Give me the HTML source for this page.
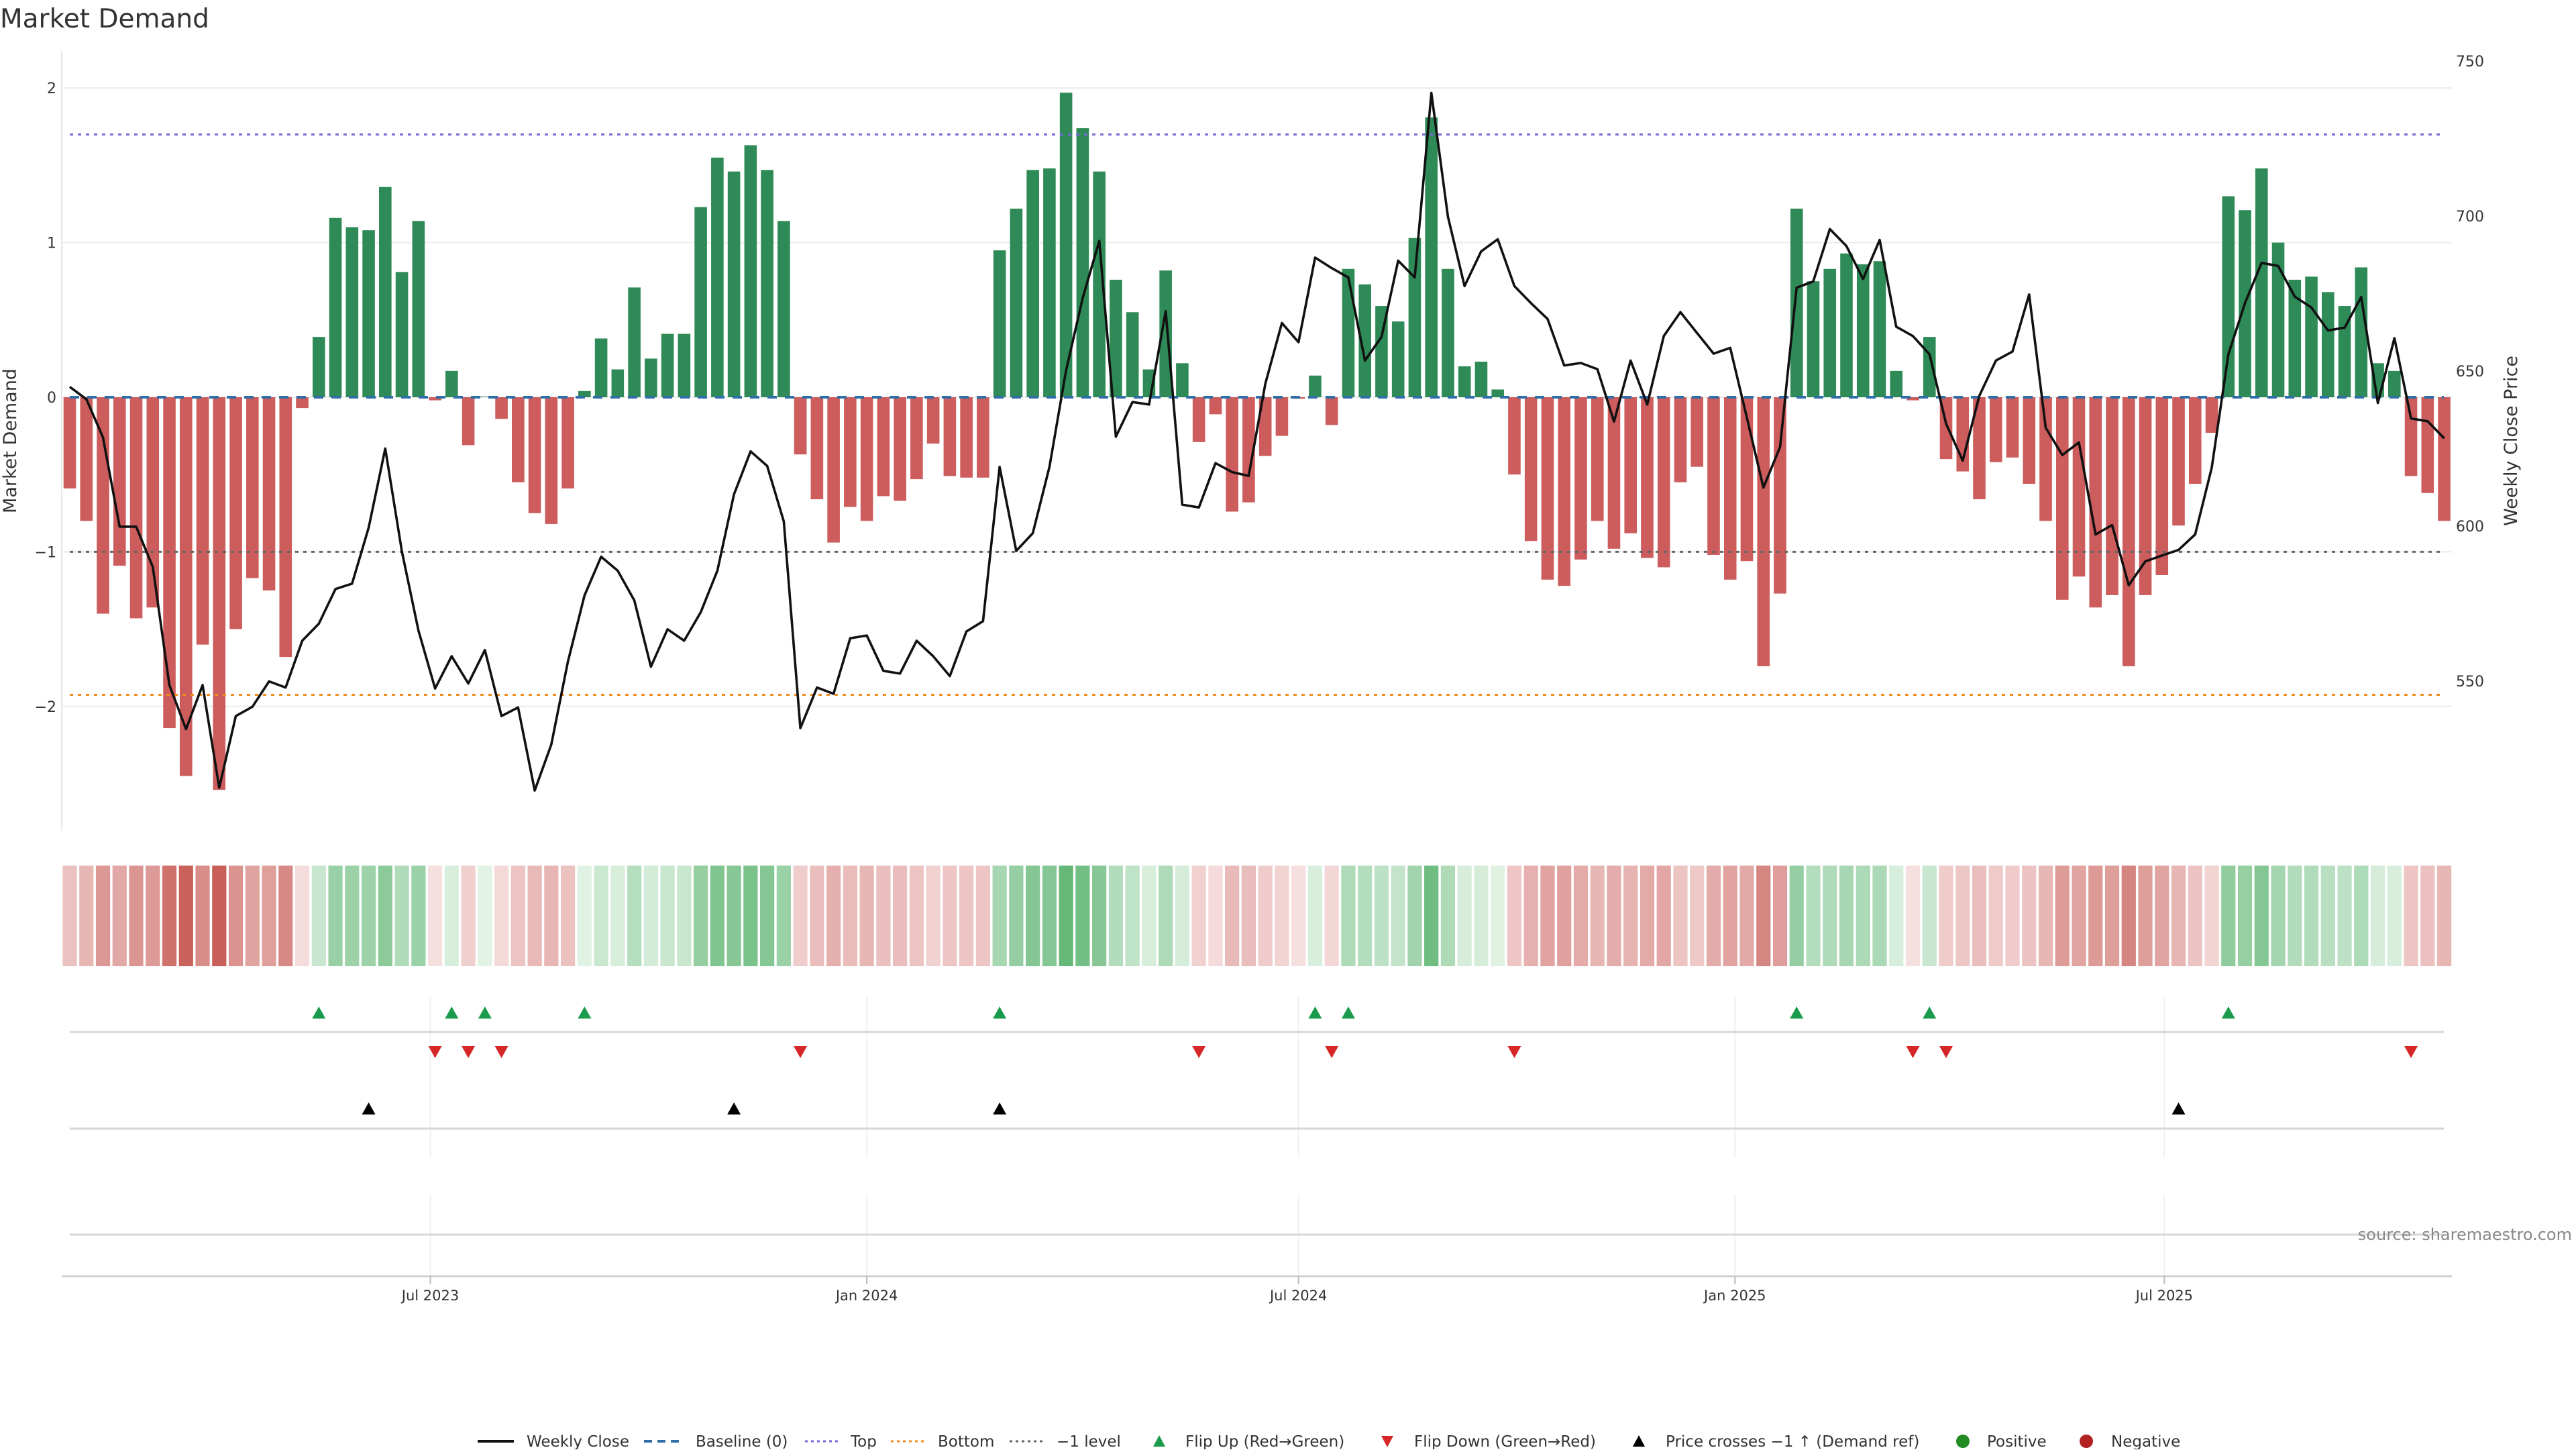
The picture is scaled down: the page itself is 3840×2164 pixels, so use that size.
<!DOCTYPE html>
<html><head><meta charset="utf-8">
<style>
html,body{margin:0;padding:0;background:#fff;}
body{width:3840px;height:2160px;overflow:hidden;font-family:"DejaVu Sans","Liberation Sans",sans-serif;}
svg text{font-family:"DejaVu Sans","Liberation Sans",sans-serif;}
</style></head>
<body>
<svg id="chart" xmlns="http://www.w3.org/2000/svg" width="3840" height="2160" viewBox="0 0 3840 2160">
<text x="0" y="41" font-size="39" fill="#333">Market Demand</text>
<g id="main"></g>
</svg>
<script>
const demand = [-0.59,-0.8,-1.4,-1.09,-1.43,-1.36,-2.14,-2.45,-1.6,-2.54,-1.5,-1.17,-1.25,-1.68,-0.07,0.39,1.16,1.1,1.08,1.36,0.81,1.14,-0.02,0.17,-0.31,0.004,-0.14,-0.55,-0.75,-0.82,-0.59,0.04,0.38,0.18,0.71,0.25,0.41,0.41,1.23,1.55,1.46,1.63,1.47,1.14,-0.37,-0.66,-0.94,-0.71,-0.8,
-0.64,-0.67,-0.53,-0.3,-0.51,-0.52,-0.52,0.95,1.22,1.47,1.48,1.97,1.74,1.46,0.76,0.55,0.18,0.82,0.22,-0.29,-0.11,-0.74,-0.68,-0.38,-0.25,-0.01,0.14,-0.18,0.83,0.73,0.59,0.49,1.03,1.81,0.83,0.2,0.23,0.05,-0.5,-0.93,-1.18,-1.22,-1.05,-0.8,-0.98,-0.88,-1.04,-1.1,-0.55,-0.45,-1.02,-1.18,
-1.06,-1.74,-1.27,1.22,0.75,0.83,0.93,0.86,0.88,0.17,-0.02,0.39,-0.4,-0.48,-0.66,-0.42,-0.39,-0.56,-0.8,-1.31,-1.16,-1.36,-1.28,-1.74,-1.28,-1.15,-0.83,-0.56,-0.23,1.3,1.21,1.48,1.0,0.76,0.78,0.68,0.59,0.84,0.22,0.17,-0.51,-0.62,-0.8];
const price = [644.9,640.9,628.6,599.8,599.8,586.8,548.7,534.5,548.7,515.6,538.7,541.7,549.9,547.9,563,568.5,579.7,581.4,599.5,625,591.8,566.3,547.6,558,549.2,560,538.7,541.5,514.7,529.5,556.3,577.6,590.1,585.6,576,554.6,566.7,563,572.2,585.6,610.2,624.1,619.4,601.5,534.8,547.9,545.9,563.8,564.7,
553.3,552.4,563,558,551.6,566,569.3,619.1,592,597.7,619.1,650.1,673.5,692,628.8,640,639.2,669.3,606.9,606,620.3,617.4,616.2,645.9,665.5,659.3,686.6,683.2,680.2,653.4,661,685.6,680.2,739.7,699.8,677.4,688.6,692.5,677.4,671.9,666.8,651.8,652.6,650.6,633.7,653.4,639.2,661.3,669,662.3,655.6,657.5,
635,612.4,625.5,676.9,678.9,695.8,690.3,679.7,692.3,664.3,661.3,655.4,633,621.1,642,653.4,656.3,674.7,631.7,622.9,627,597.3,600.3,580.9,588.6,590.5,592.3,597.3,618.8,655.4,671.9,684.9,683.9,674,670.5,663.1,664,673.9,639.7,660.6,634.7,633.8,628.3];
const startDate = "2023-01-30";
const demandTicks = [2,1,0,-1,-2];
const demandTickLabels = ["2","1","0","\u22121","\u22122"];
const priceTicks = [750,700,650,600,550];
const dateTicks = ["2023-07-01","2024-01-01","2024-07-01","2025-01-01","2025-07-01"];
const dateTickLabels = ["Jul 2023","Jan 2024","Jul 2024","Jan 2025","Jul 2025"];
const levelTop = 1.7, levelBottom = -1.925, levelMinus1 = -1;

const NS="http://www.w3.org/2000/svg";
const root=document.getElementById('main');
function mk(tag,attrs,parent){const e=document.createElementNS(NS,tag);for(const k in attrs)e.setAttribute(k,attrs[k]);(parent||root).appendChild(e);return e;}
const DAY=86400000;
const t0=Date.parse("2023-07-01");
function xDate(ms){return 641.5+(ms-t0)/DAY*3.536;}
const dates=demand.map((_,i)=>Date.parse(startDate)+i*7*DAY);
function xi(i){return xDate(dates[i]);}
function yD(v){return 592-v*230.4;}
function yP(p){return 322-(p-700)*4.62;}
const X0=92,X1=3655;

// gridlines + ticks
demandTicks.forEach((v,k)=>{
  const g=mk('line',{x1:X0,x2:X1,y1:yD(v),y2:yD(v),stroke:'#ececec','stroke-width':2});
  
  
  const t=mk('text',{x:84,y:yD(v)+8,'font-size':22,fill:'#333','text-anchor':'end'});
  t.textContent=demandTickLabels[k];
  
  
});
priceTicks.forEach(p=>{
  const t=mk('text',{x:3661,y:yP(p)+8,'font-size':22,fill:'#333'});
  t.textContent=String(p);
  
  
});
const ax=mk('line',{x1:X0,x2:X0,y1:76,y2:1238,stroke:'#e6e6e6','stroke-width':2});


const yt=mk('text',{x:0,y:0,'font-size':27,fill:'#333','text-anchor':'middle',transform:'translate(24,657) rotate(-90)'});
yt.textContent='Market Demand';


const yt2=mk('text',{x:0,y:0,'font-size':27,fill:'#333','text-anchor':'middle',transform:'translate(3752,657) rotate(-90)'});
yt2.textContent='Weekly Close Price';



// bars
demand.forEach((v,i)=>{
  const y=Math.min(yD(v),yD(0)),h=Math.max(Math.abs(yD(v)-yD(0)),0.5);
  const b=mk('rect',{x:xi(i)-9.3,y:y,width:18.6,height:h,fill:v>=0?'#2e8b57':'#cd5c5c'});
  
  
});
// reference lines
function hline(v,color,dash,name,w){const l=mk('line',{x1:104,x2:3643,y1:yD(v),y2:yD(v),stroke:color,'stroke-width':w||3,'stroke-dasharray':dash});
  }
hline(0,'#2f6ea8','14 12','baseline-line',4);
hline(levelTop,'#7b68d8','5 7','top-line');
hline(levelBottom,'#f08c1c','5 7','bottom-line');
hline(levelMinus1,'#666','5 7','minus1-line');
// price line
const pl=mk('polyline',{points:price.map((p,i)=>xi(i).toFixed(1)+','+yP(p).toFixed(1)).join(' '),fill:'none',stroke:'#111','stroke-width':3.6,'stroke-linejoin':'round'});



// heatmap strip
function mix(a,b,t){return 'rgb('+a.map((c,k)=>Math.round(c+(b[k]-c)*t)).join(',')+')';}
demand.forEach((v,i)=>{
  const col=v>=0?mix([226,243,229],[100,183,119],Math.min(v/2,1)):mix([246,224,224],[200,95,88],Math.min(-v/2.5,1));
  const c=mk('rect',{x:xi(i)-10.6,y:1290,width:21.2,height:150,fill:col});
  
  
});

// marker panels
[[1486,1726],[1780,1902]].forEach(r=>dateTicks.forEach(d=>{
  const g=mk('line',{x1:xDate(Date.parse(d)),x2:xDate(Date.parse(d)),y1:r[0],y2:r[1],stroke:'#eef0f3','stroke-width':2});
  
  
}));
[1538,1682,1840].forEach(y=>{
  const l=mk('line',{x1:104,x2:3643,y1:y,y2:y,stroke:'#d6d6d6','stroke-width':3});
  
  
});
function tri(x,y,up,color,name){
  const p=up?`${x-10},${y+9} ${x+10},${y+9} ${x},${y-9}`:`${x-10},${y-9} ${x+10},${y-9} ${x},${y+9}`;
  const t=mk('polygon',{points:p,fill:color});
  
  
}
const crossLevel=700-(yD(-1)-322)/4.62;
for(let i=1;i<demand.length;i++){
  if(demand[i-1]<0&&demand[i]>=0)tri(xi(i),1509,true,'#1a9b4b','flip-up-marker');
  if(demand[i-1]>=0&&demand[i]<0)tri(xi(i),1568,false,'#d62728','flip-down-marker');
  if(price[i-1]<crossLevel&&price[i]>=crossLevel)tri(xi(i),1652,true,'#000','price-cross-marker');
}
// x axis
const xa=mk('line',{x1:X0,x2:X1,y1:1902,y2:1902,stroke:'#d0d0d0','stroke-width':3});


dateTicks.forEach((d,k)=>{
  const x=xDate(Date.parse(d));
  const tk=mk('line',{x1:x,x2:x,y1:1902,y2:1914,stroke:'#bbb','stroke-width':2});
  
  
  const t=mk('text',{x:x,y:1938,'font-size':21,fill:'#333','text-anchor':'middle'});
  t.textContent=dateTickLabels[k];
  
  
});
const src=mk('text',{x:3834,y:1848,'font-size':24,fill:'#888','text-anchor':'end'});
src.textContent='source: sharemaestro.com';



// legend
const LY=2148;
const lg=mk('g',{});


function ltext(x,s){const t=mk('text',{x:x,y:LY+8,'font-size':23,fill:'#333'},lg);t.textContent=s;}
function lline(x1,x2,color,dash,w){const l=mk('line',{x1:x1,x2:x2,y1:LY,y2:LY,stroke:color,'stroke-width':w,'stroke-dasharray':dash||'none'},lg);}
lline(712,766,'#111','',4);ltext(785,'Weekly Close');
lline(960,1012,'#2f6ea8','12 8',4);ltext(1037,'Baseline (0)');
lline(1200,1252,'#7b68d8','4 5',3);ltext(1268,'Top');
lline(1328,1380,'#f08c1c','4 5',3);ltext(1398,'Bottom');
lline(1505,1557,'#666','4 5',3);ltext(1575,'\u22121 level');
function lmark(x,up,color){const p=up?`${x-9},${LY+8} ${x+9},${LY+8} ${x},${LY-9}`:`${x-9},${LY-8} ${x+9},${LY-8} ${x},${LY+9}`;const m=mk('polygon',{points:p,fill:color},lg);}
lmark(1728,true,'#1a9b4b');ltext(1767,'Flip Up (Red\u2192Green)');
lmark(2068,false,'#d62728');ltext(2108,'Flip Down (Green\u2192Red)');
lmark(2443,true,'#000');ltext(2483,'Price crosses \u22121 \u2191 (Demand ref)');
const c1=mk('circle',{cx:2926,cy:LY,r:10,fill:'#228b22'},lg);
ltext(2962,'Positive');
const c2=mk('circle',{cx:3110,cy:LY,r:10,fill:'#b22222'},lg);
ltext(3147,'Negative');
</script>
</body></html>
